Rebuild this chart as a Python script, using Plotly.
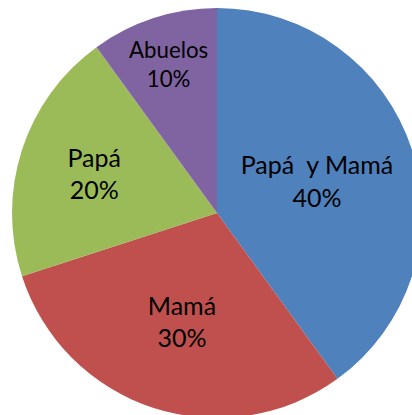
import plotly.graph_objects as go

labels = ["Papá  y Mamá", "Mamá", "Papá", "Abuelos"]
values = [40, 30, 20, 10]
colors = ["#4F81BD", "#C0504D", "#9BBB59", "#8064A2"]

fig = go.Figure(
    go.Pie(
        labels=labels,
        values=values,
        sort=False,
        direction="clockwise",
        rotation=0,
        marker=dict(colors=colors, line=dict(width=0)),
        texttemplate="%{label}<br>%{percent:.0%}",
        textposition="inside",
        insidetextorientation="horizontal",
        textfont=dict(family="Lato", size=25, color="black"),
        showlegend=False,
        hoverinfo="label+percent",
    )
)
fig.update_layout(
    width=422,
    height=418,
    margin=dict(l=12, r=0, t=8, b=0),
    paper_bgcolor="white",
    plot_bgcolor="white",
)
fig.write_html(
    "out.html",
    config={"displayModeBar": False},
    post_script="document.body.style.margin='0';document.body.style.overflow='hidden';",
)
